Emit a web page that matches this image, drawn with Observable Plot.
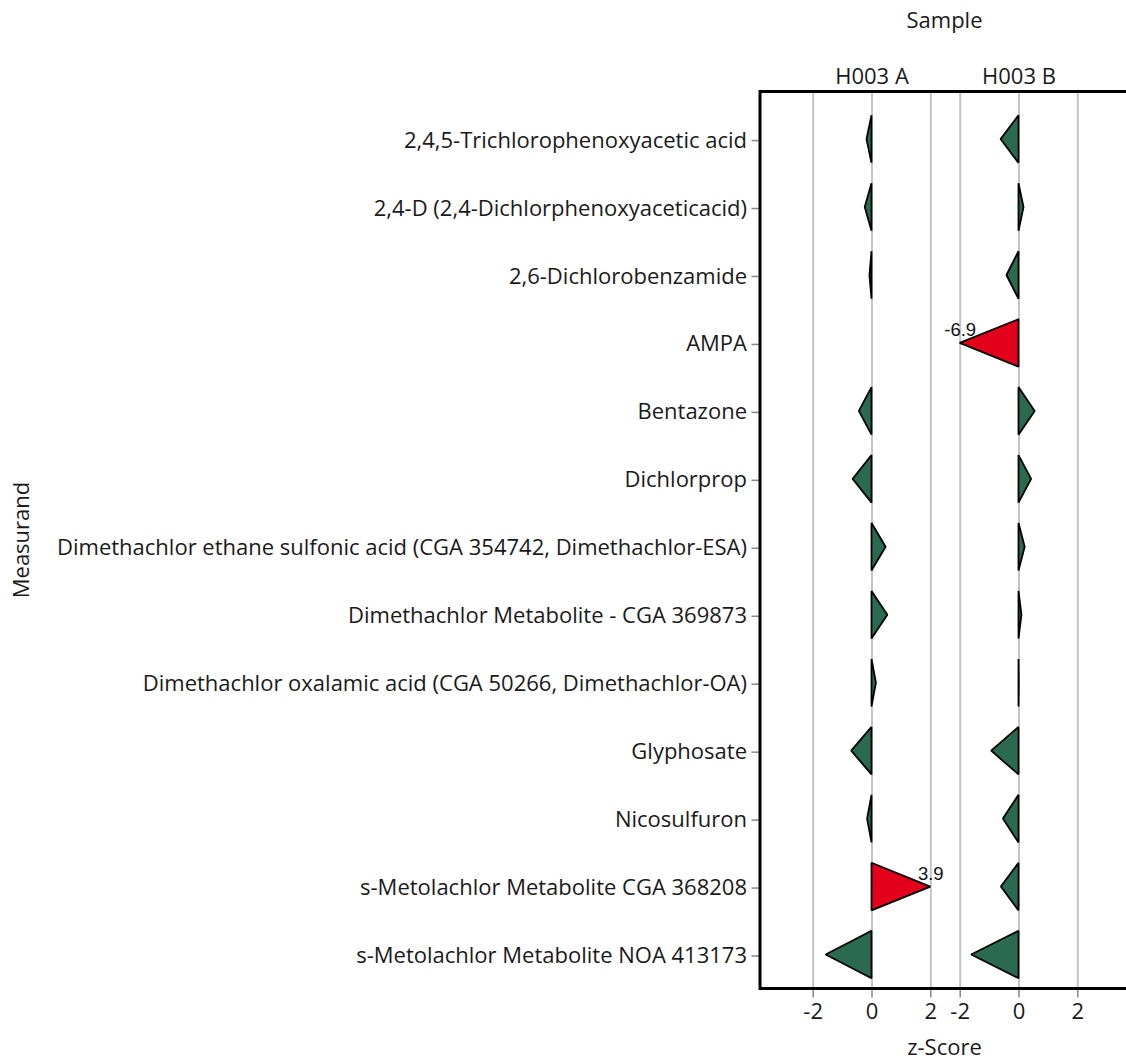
<!DOCTYPE html>
<html>
<head>
<meta charset="utf-8">
<script src="https://cdn.jsdelivr.net/npm/d3@7"></script>
<script src="https://cdn.jsdelivr.net/npm/@observablehq/plot@0.6"></script>
<style>
  html, body { margin: 0; padding: 0; background: #fff; overflow: hidden; }
  #chart svg { display: block; }
</style>
</head>
<body>
<div id="chart"></div>
<script>
const measurands = [
  "2,4,5-Trichlorophenoxyacetic acid",
  "2,4-D (2,4-Dichlorphenoxyaceticacid)",
  "2,6-Dichlorobenzamide",
  "AMPA",
  "Bentazone",
  "Dichlorprop",
  "Dimethachlor ethane sulfonic acid (CGA 354742, Dimethachlor-ESA)",
  "Dimethachlor Metabolite - CGA 369873",
  "Dimethachlor oxalamic acid (CGA 50266, Dimethachlor-OA)",
  "Glyphosate",
  "Nicosulfuron",
  "s-Metolachlor Metabolite CGA 368208",
  "s-Metolachlor Metabolite NOA 413173"
];
const samples = ["H003 A", "H003 B"];
const zScoreA = [-0.17, -0.23, -0.07, null, -0.43, -0.64, 0.48, 0.54, 0.15, -0.69, -0.15, 3.9, -1.56];
const zScoreB = [-0.61, 0.17, -0.41, -6.9, 0.55, 0.43, 0.21, 0.10, 0.01, -0.93, -0.53, -0.60, -1.61];
const xTicks = [-2, 0, 2];
const zLimit = 2;
const colorOk = "#2a6a50";
const colorOut = "#e2001a";

const seriesBySample = {"H003 A": zScoreA, "H003 B": zScoreB};
const triangles = [];
const outliers = [];
samples.forEach(s => {
  seriesBySample[s].forEach((v, i) => {
    if (v == null) return;
    const c = Math.max(-zLimit, Math.min(zLimit, v));
    const out = Math.abs(v) > zLimit;
    const key = s + "|" + i;
    const color = out ? colorOut : colorOk;
    triangles.push({sample: s, key, y: i - 0.35, x0: 0, x: 0, color});
    triangles.push({sample: s, key, y: i, x0: 0, x: c, color});
    triangles.push({sample: s, key, y: i + 0.35, x0: 0, x: 0, color});
    if (out) outliers.push({sample: s, i, v, c});
  });
});

const fxRange = [760, 1129];
const fxPadOuter = 0.255;
const facetStep = (fxRange[1] - fxRange[0]) / (samples.length + 2 * fxPadOuter);
const axisShift = -fxPadOuter * facetStep;

const plot = Plot.plot({
  width: 1126,
  height: 1061,
  marginTop: 91.5,
  marginBottom: 72.5,
  marginLeft: 760,
  marginRight: 0,
  style: {fontFamily: "'Open Sans', 'Noto Sans', sans-serif", fontSize: "22px", color: "#1a1a1a", background: "white"},
  fx: {domain: samples, range: fxRange, paddingInner: 0, paddingOuter: fxPadOuter},
  x: {domain: [-2.5, 2.5]},
  y: {domain: [-0.7, 12.5], reverse: true},
  color: {type: "identity"},
  marks: [
    Plot.gridX(xTicks, {stroke: "#c4c4c4", strokeOpacity: 1, strokeWidth: 2}),
    Plot.axisFx({anchor: "top", label: null, tickSize: 0, tickPadding: 8}),
    Plot.axisX(xTicks, {anchor: "bottom", label: null, tickSize: 9, tickPadding: 5, stroke: "#888", strokeWidth: 1.5, tickFormat: d => String(d)}),
    Plot.axisY(d3.range(measurands.length), {anchor: "left", label: null, tickFormat: i => measurands[i], tickSize: 9, tickPadding: 5, stroke: "#888", strokeWidth: 1.5, dx: axisShift, dy: 1}),
    Plot.areaX(triangles, {fx: "sample", y: "y", x1: "x0", x2: "x", z: "key", fill: "color", stroke: "black", strokeWidth: 1.8, strokeLinejoin: "miter"}),
    Plot.text(outliers, {fx: "sample", x: "c", y: "i", text: d => d.v.toFixed(1), dy: -13, fontFamily: "'Liberation Sans', Arial, sans-serif", fontSize: 18.5, fill: "#111"})
  ]
});

document.getElementById("chart").append(plot);

// frame and titles placed from the plot's own scales
const svg = d3.select(plot);
const fxR = plot.scale("fx").range;
const yR = plot.scale("y").range;
const x0 = Math.min(...fxR), x1 = Math.max(...fxR);
const y0 = Math.min(...yR), y1 = Math.max(...yR);
svg.append("rect")
  .attr("x", x0).attr("y", y0)
  .attr("width", x1 - x0).attr("height", y1 - y0)
  .attr("fill", "none").attr("stroke", "black").attr("stroke-width", 3);
svg.append("text")
  .attr("x", (x0 + x1) / 2).attr("y", y0 - 73)
  .attr("text-anchor", "middle").attr("dominant-baseline", "central")
  .attr("fill", "#1a1a1a").text("Sample");
svg.append("text")
  .attr("x", (x0 + x1) / 2).attr("y", y1 + 57)
  .attr("text-anchor", "middle").attr("dominant-baseline", "central")
  .attr("fill", "#1a1a1a").text("z-Score");
svg.append("text")
  .attr("transform", `translate(20,${(y0 + y1) / 2}) rotate(-90)`)
  .attr("text-anchor", "middle").attr("dominant-baseline", "central")
  .attr("fill", "#1a1a1a").text("Measurand");
</script>
</body>
</html>
